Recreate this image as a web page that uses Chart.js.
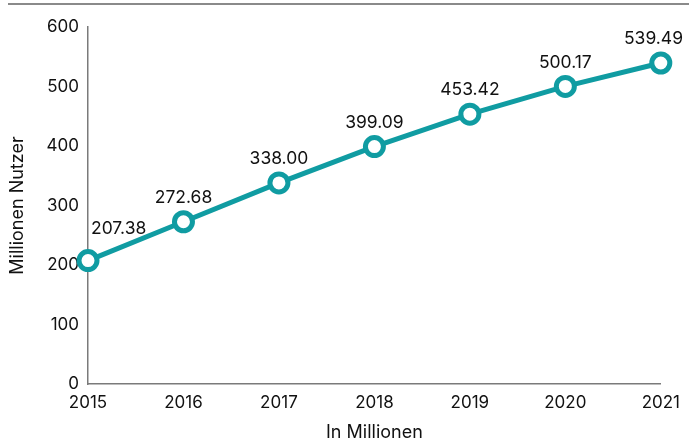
<!DOCTYPE html>
<html>
<head>
<meta charset="utf-8">
<script src="https://cdn.jsdelivr.net/npm/chart.js@4/dist/chart.umd.min.js"></script>
<style>
  html, body { margin: 0; padding: 0; background: #fff; }
  #wrap { position: relative; width: 689px; height: 441px; }
  #rule { position: absolute; left: 8px; right: 0; top: 3px; height: 2px; background: #8a8a8a; }
  canvas { position: absolute; left: 0; top: 0; }
</style>
</head>
<body>
<div id="wrap">
  <div id="rule"></div>
  <canvas id="chart" width="689" height="441"></canvas>
</div>
<script>
// Nutzerzahlen (Millionen) pro Jahr
const years = ['2015', '2016', '2017', '2018', '2019', '2020', '2021'];
const users = [207.38, 272.68, 338.00, 399.09, 453.42, 500.17, 539.49];
const yTicks = [0, 100, 200, 300, 400, 500, 600];

const TEAL = '#109ca2';
const INK = '#111111';
const FONT = 'Inter, "Noto Sans", sans-serif';

// Wertbeschriftungen über den Punkten, am Rand der Zeichenfläche gehalten
const valueLabels = {
  id: 'valueLabels',
  afterDatasetsDraw(chart) {
    const { ctx, chartArea } = chart;
    const meta = chart.getDatasetMeta(0);
    const data = chart.data.datasets[0].data;
    ctx.save();
    ctx.font = '17.5px ' + FONT;
    ctx.fillStyle = INK;
    ctx.textBaseline = 'middle';
    ctx.textAlign = 'left';
    meta.data.forEach((pt, i) => {
      const text = data[i].toFixed(2);
      const w = ctx.measureText(text).width;
      let left = pt.x - w / 2;
      if (left < chartArea.left + 3) left = chartArea.left + 3;
      if (left + w > chart.width - 6) left = chart.width - 6 - w;
      let cy = pt.y - 24;
      // keep the text clear of the rising line to its right
      const next = meta.data[i + 1];
      if (next) {
        const slope = (next.y - pt.y) / (next.x - pt.x);
        const lineY = pt.y + slope * (left + w - pt.x);
        const maxBottom = lineY - 2;
        if (cy + 6 > maxBottom) cy = maxBottom - 6;
      }
      ctx.fillText(text, left, cy);
    });
    ctx.restore();
  }
};

new Chart(document.getElementById('chart'), {
  type: 'line',
  data: {
    labels: years,
    datasets: [{
      data: users,
      borderColor: TEAL,
      borderWidth: 5,
      pointRadius: 9,
      pointHoverRadius: 9,
      pointBorderWidth: 5,
      pointBackgroundColor: '#ffffff',
      pointBorderColor: TEAL,
      tension: 0,
      clip: false
    }]
  },
  options: {
    responsive: false,
    animation: false,
    events: [],
    layout: { padding: { top: 27, right: 28, bottom: 0, left: 0 } },
    plugins: { legend: { display: false }, tooltip: { enabled: false } },
    scales: {
      x: {
        type: 'category',
        offset: false,
        grid: { display: false, drawTicks: false },
        border: { display: true, color: '#7a7a7a', width: 1.5 },
        ticks: { color: INK, font: { family: FONT, size: 17 }, padding: 9, maxRotation: 0, autoSkip: false },
        title: { display: true, text: 'In Millionen', color: INK, font: { family: FONT, size: 18, lineHeight: 1 }, padding: { top: 0, bottom: -1 } },
        afterFit(scale) { scale.height = 57; }
      },
      y: {
        min: 0,
        max: 600,
        grid: { display: false, drawTicks: false },
        border: { display: true, color: '#7a7a7a', width: 1.5 },
        afterBuildTicks(scale) { scale.ticks = yTicks.map(v => ({ value: v })); },
        ticks: { color: INK, font: { family: FONT, size: 17 }, padding: 9 },
        title: { display: true, text: 'Millionen Nutzer', color: INK, font: { family: FONT, size: 18, lineHeight: 1.2 }, padding: { top: 7, bottom: 0 } },
        afterFit(scale) { scale.width = 88; }
      }
    }
  },
  plugins: [valueLabels]
});
</script>
</body>
</html>
